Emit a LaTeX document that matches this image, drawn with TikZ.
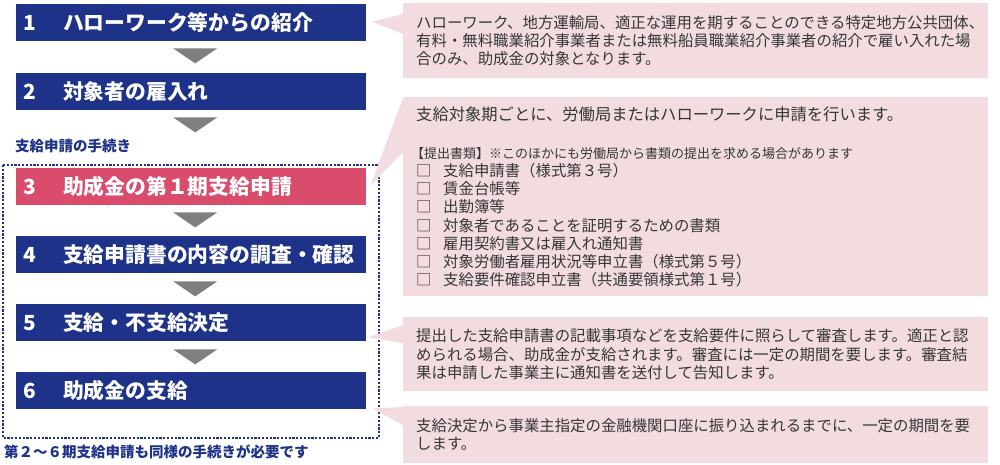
\documentclass[tikz,border=0pt]{standalone}
\usepackage{fontspec}
\setmainfont{Noto Sans CJK JP}
\usetikzlibrary{calc}
\definecolor{stepblue}{HTML}{1D3288}
\definecolor{steppink}{HTML}{D94C6B}
\definecolor{notepink}{HTML}{F2DCDF}
\definecolor{downgray}{HTML}{7F7F7F}
\definecolor{notetext}{HTML}{363636}
\tikzset{
  stepbox/.style={anchor=north west, fill=stepblue, text=white, text width=336pt,
    inner xsep=7pt, inner ysep=0pt, minimum height=37pt, align=left,
    font=\bfseries\fontsize{20.8}{24}\selectfont},
  notebox/.style={anchor=north west, fill=notepink, text=notetext, text width=559pt,
    inner xsep=13pt, inner ysep=0pt, align=left, font=\fontsize{15.4}{18.2}\selectfont},
  headline/.style={anchor=west, inner sep=0pt, text=stepblue,
    font=\bfseries\fontsize{14.5}{16}\selectfont},
  downtri/.style={fill=downgray},
  pointer/.style={fill=notepink}
}
\begin{document}
\begin{tikzpicture}[x=1pt,y=-1pt]
  \useasboundingbox (0,0) rectangle (1000,465);
% steps
  \node[stepbox] (s1) at (16,4) {\makebox[40pt][l]{1}ハローワーク等からの紹介};
  \node[stepbox] (s2) at (16,73) {\makebox[40pt][l]{2}対象者の雇入れ};
  \node[stepbox, fill=steppink] (s3) at (16,168) {\makebox[40pt][l]{3}助成金の第１期支給申請};
  \node[stepbox] (s4) at (16,236) {\makebox[40pt][l]{4}支給申請書の内容の調査・確認};
  \node[stepbox] (s5) at (16,304) {\makebox[40pt][l]{5}支給・不支給決定};
  \node[stepbox] (s6) at (16,372) {\makebox[40pt][l]{6}助成金の支給};

  \fill[downtri] ($(s1.south)+(-18,7)$) -- ++(44,0) -- ++(-22,15) -- cycle;
  \fill[downtri] ($(s2.south)+(-18,7)$) -- ++(44,0) -- ++(-22,15) -- cycle;
  \fill[downtri] ($(s3.south)+(-18,7)$) -- ++(44,0) -- ++(-22,15) -- cycle;
  \fill[downtri] ($(s4.south)+(-18,8)$) -- ++(44,0) -- ++(-22,15) -- cycle;
  \fill[downtri] ($(s5.south)+(-18,8)$) -- ++(44,0) -- ++(-22,15) -- cycle;

  \node[headline] (proc) at (15,146) {支給申請の手続き};
  \draw[stepblue, line width=2.4pt, dash pattern=on 2.2pt off 1.6pt] (3,165) rectangle (379,438);
  \node[headline] (again) at (4,452) {第２～６期支給申請も同様の手続きが必要です};

% notes
  \node[notebox, minimum height=75pt] (n1) at (403,3) {ハローワーク、地方運輸局、適正な運用を期することのできる特定地方公共団体、\\
    有料・無料職業紹介事業者または無料船員職業紹介事業者の紹介で雇い入れた場\\
    合のみ、助成金の対象となります。};
  \node[notebox, minimum height=199pt] (n2) at (403,97) {{\fontsize{16.3}{18}\selectfont 支給対象期ごとに、労働局またはハローワークに申請を行います。}\\[20pt]
    {\hspace*{-5pt}\fontsize{13}{15}\selectfont 【提出書類】※このほかにも労働局から書類の提出を求める場合があります}\\
    \makebox[27pt][l]{□}支給申請書（様式第３号）\\
    \makebox[27pt][l]{□}賃金台帳等\\
    \makebox[27pt][l]{□}出勤簿等\\
    \makebox[27pt][l]{□}対象者であることを証明するための書類\\
    \makebox[27pt][l]{□}雇用契約書又は雇入れ通知書\\
    \makebox[27pt][l]{□}対象労働者雇用状況等申立書（様式第５号）\\
    \makebox[27pt][l]{□}支給要件確認申立書（共通要領様式第１号）};
  \node[notebox, minimum height=74pt] (n3) at (403,317) {提出した支給申請書の記載事項などを支給要件に照らして審査します。適正と認\\
    められる場合、助成金が支給されます。審査には一定の期間を要します。審査結\\
    果は申請した事業主に通知書を送付して告知します。};
  \node[notebox, minimum height=57pt] (n4) at (403,406) {支給決定から事業主指定の金融機関口座に振り込まれるまでに、一定の期間を要\\
    します。};

  % pointers
  \coordinate (p1) at ($(s1.east)+(6,-1)$);
  \coordinate (p2) at ($(s3.east)+(4,-1)$);
  \coordinate (p3) at ($(s5.south east)+(2,-4)$);
  \coordinate (p4) at ($(s6.south east)+(6,-1)$);
  \fill[pointer] (p1) -- ([yshift=-11pt]n1.north west) -- ([yshift=-31pt]n1.north west) -- cycle;
  \fill[pointer] (p2) -- ([yshift=-1pt]n2.north west) -- ([yshift=-55pt]n2.north west) -- cycle;
  \fill[pointer] (p3) -- ([yshift=-8pt]n3.north west) -- ([yshift=-26pt]n3.north west) -- cycle;
  \fill[pointer] (p4) -- ([yshift=-1pt]n4.north west) -- ([yshift=-19pt]n4.north west) -- cycle;
\end{tikzpicture}
\end{document}
